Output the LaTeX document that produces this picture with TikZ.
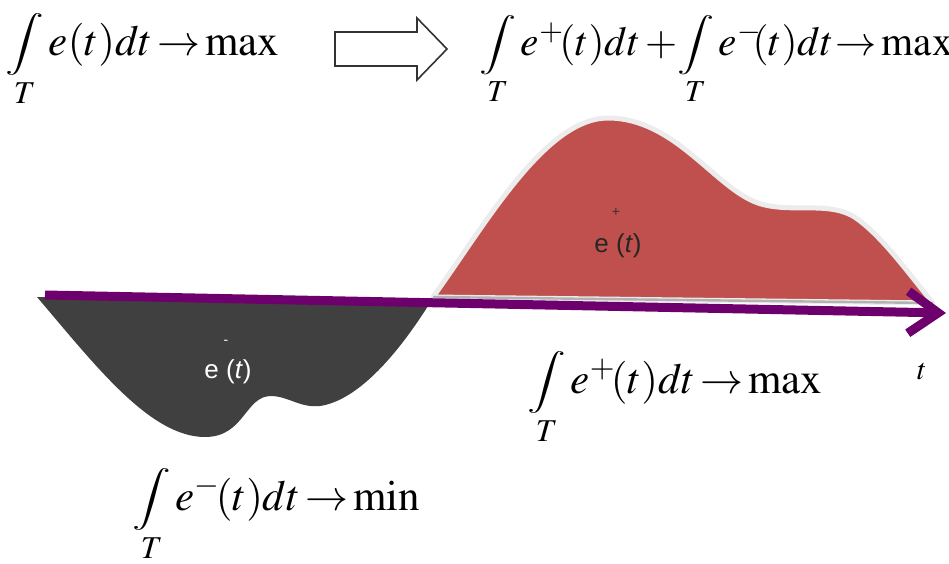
\documentclass[tikz,border=0pt]{standalone}
\usepackage{mathptmx}
\usepackage{graphicx}
\usepackage{fontspec}
\setmainfont{Liberation Serif}
\setsansfont{Liberation Sans}
\usetikzlibrary{arrows.meta}
\definecolor{epos}{HTML}{C0504D}
\definecolor{eneg}{HTML}{404040}
\definecolor{axcol}{HTML}{6E006E}
\definecolor{glow}{HTML}{ECECEC}
\newcommand{\Tint}{\mathop{\vcenter{\hbox{\scalebox{1}[0.72]{$\displaystyle\intop$}}}}\limits_T}
\newcommand{\goesto}{\,{\rightarrow}\,}
\tikzset{
  formula/.style ={font=\fontsize{21.5}{26}\selectfont, inner sep=0pt, anchor=base west},
  slabel/.style  ={font=\fontsize{13}{14}\selectfont\sffamily, inner sep=0pt},
  sign/.style    ={font=\fontsize{7}{8}\selectfont\sffamily, inner sep=0pt},
  taxis/.style   ={draw=axcol, line width=4.5pt, -{Straight Barb[length=15pt,width=21pt]}},
  hollow/.style  ={draw=black!80, line width=0.8pt, fill=white, line join=miter},
}
\begin{document}
\begin{tikzpicture}[x=0.5pt,y=-0.5pt]
    \useasboundingbox (0,0) rectangle (949,563);
    % --- positive part e+ ---
    \filldraw[fill=epos, draw=glow, line width=2.5pt, line join=round]
      (433,297) .. controls (485,225) and (545,118) .. (608,118)
      .. controls (675,118) and (715,188) .. (758,203)
      .. controls (790,214) and (830,200) .. (856,218)
      .. controls (882,236) and (910,275) .. (933,303) -- cycle;
    \draw[gray!60, line width=1.2pt] (433,297) -- (933,303);
    \node[sign,text=black!80] (pp) at (616,212) {+};
    \node[slabel,text=black!85] (ep) at (618,246) {e (\textit{t})};
    % --- negative part e- ---
    \fill[eneg]
      (37,297) .. controls (95,365) and (150,437) .. (205,437)
      .. controls (245,437) and (245,395) .. (272,396)
      .. controls (290,397) and (300,408) .. (320,406)
      .. controls (360,400) and (400,350) .. (428,306) -- cycle;
    \node[sign,text=white] (mm) at (226,342) {-};
    \node[slabel,text=white] (em) at (228,372) {e (\textit{t})};
    % --- time axis ---
    \coordinate (t0) at (45,295);
    \coordinate (t1) at (946,313);
    \draw[taxis] (t0) -- (t1);
    \node[font=\fontsize{15}{16}\selectfont] (tl) at (922,372) {$t$};
    % --- criteria ---
    \node[formula] (ftot) at (5,55)
      {$\Tint e(t)dt\goesto\mathrm{max}$};
    \draw[hollow] (335,32) -- (417,32) -- (417,18) -- (447,49)
      -- (417,80) -- (417,66) -- (335,66) -- cycle;
    \node[formula,font=\fontsize{20.6}{25}\selectfont] (fsum) at (479,55)
      {$\Tint e^{+}\!(t)dt\mkern2mu{+}\mkern-2mu\Tint e^{-}\mkern-4mu(t)dt\mkern1mu{\rightarrow}\mkern2mu\mathrm{max}$};
    \node[formula] (fpos) at (527,393)
      {$\Tint e^{+}\!(t)dt\goesto\mathrm{max}$};
    \node[formula] (fneg) at (132,510)
      {$\Tint e^{-}\!(t)dt\goesto\mathrm{min}$};
\end{tikzpicture}
\end{document}
